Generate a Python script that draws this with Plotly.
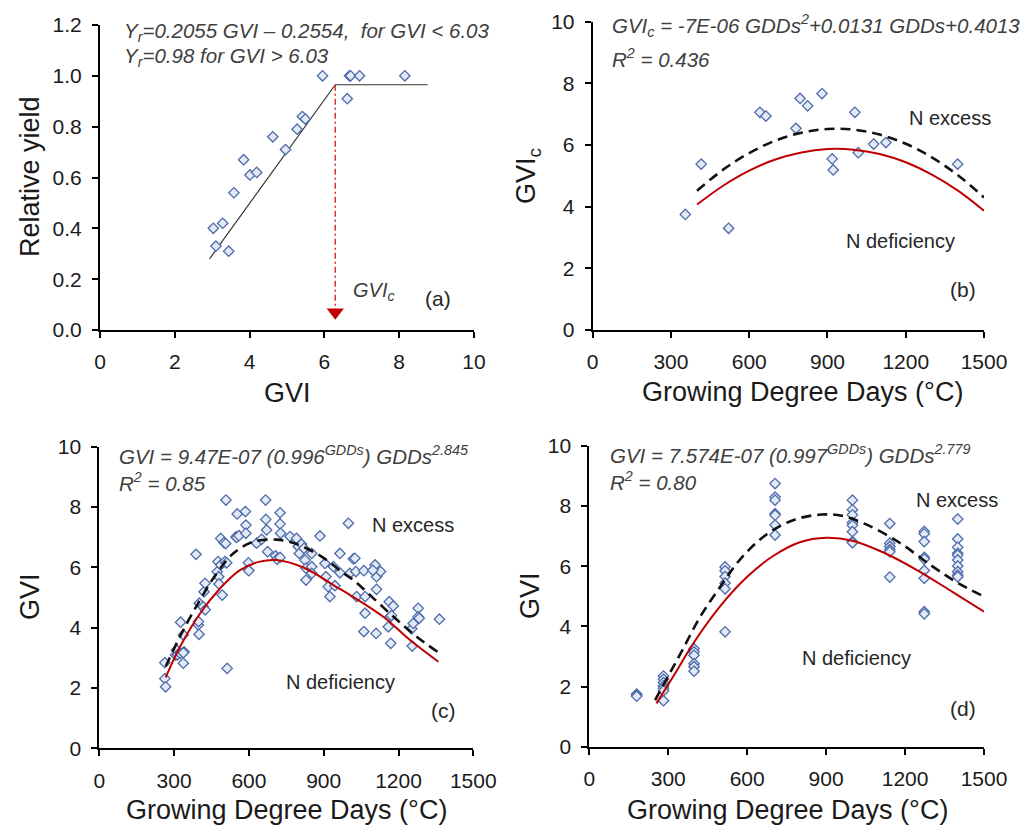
import plotly.graph_objects as go

# ---------------- Panel (a) ----------------
a_gvi = [3.03, 3.10, 3.28, 3.44, 3.58, 3.84, 4.01, 4.19, 4.62, 4.96, 5.27, 5.41, 5.49,
         5.95, 6.61, 6.67, 6.70, 6.94, 8.15]
a_ry = [0.40, 0.33, 0.42, 0.31, 0.54, 0.67, 0.61, 0.62, 0.76, 0.71, 0.79, 0.84, 0.83,
        1.00, 0.91, 1.00, 1.00, 1.00, 1.00]
a_fit_x = [2.93, 6.29, 8.76]
a_fit_y = [0.28, 0.965, 0.965]
a_crit_x = [6.29, 6.29]
a_crit_y = [0.965, 0.07]

# ---------------- Panel (b) ----------------
b_gdd = [355, 416, 521, 641, 664, 779, 795, 824, 879, 918, 922, 1005, 1018, 1077, 1124, 1399]
b_gvic = [3.75, 5.38, 3.30, 7.06, 6.94, 6.54, 7.51, 7.27, 7.67, 5.55, 5.19, 7.06, 5.75, 6.03, 6.08, 5.38]
b_curve_x = [400, 500, 600, 700, 800, 900, 1000, 1100, 1200, 1300, 1400, 1500]
b_dash_y = [4.52, 5.20, 5.74, 6.14, 6.40, 6.52, 6.50, 6.34, 6.04, 5.60, 5.02, 4.30]
b_red_y = [4.07, 4.68, 5.17, 5.53, 5.76, 5.87, 5.85, 5.71, 5.44, 5.04, 4.52, 3.87]

# ---------------- Panel (c) ----------------
c_gdd = [263, 263, 266, 306, 310, 314, 324, 326, 337, 337, 340, 337, 388, 397, 398, 400, 401,
         417, 420, 424, 425, 473, 476, 479, 480, 487, 487, 493, 500, 504, 507, 508, 511, 513,
         548, 551, 553, 560, 586, 588, 588, 598, 598, 600, 631, 651, 667, 668, 671, 675, 707,
         713, 725, 725, 727, 725, 765, 791, 798, 802, 811, 821, 825, 829, 829, 852, 852, 852,
         885, 905, 909, 918, 925, 939, 945, 965, 965, 999, 1005, 1019, 1025, 1029, 1032, 1061,
         1066, 1066, 1061, 1106, 1112, 1112, 1110, 1128, 1097, 1163, 1166, 1159, 1169, 1179,
         1172, 1253, 1255, 1259, 1279, 1279, 1283, 1364]
c_gvi = [2.84, 2.31, 2.04, 3.09, 3.26, 3.10, 3.15, 4.18, 3.76, 2.82, 3.20, 3.17, 6.43, 4.09, 4.20,
         3.78, 4.81, 4.69, 5.19, 5.47, 4.59, 5.85, 6.19, 5.69, 5.45, 6.08, 6.96, 5.08, 6.82, 6.19,
         6.79, 8.23, 6.15, 2.65, 7.01, 6.99, 7.77, 7.05, 7.85, 7.40, 7.13, 6.15, 5.91, 5.89, 6.80,
         6.93, 8.23, 7.59, 7.24, 6.52, 6.38, 6.27, 7.81, 7.44, 7.13, 6.33, 7.02, 6.96, 6.69, 6.46,
         6.77, 6.63, 6.24, 5.97, 5.58, 6.46, 6.02, 5.80, 7.04, 6.13, 5.69, 5.36, 5.03, 6.02, 5.39,
         6.46, 5.82, 7.46, 5.80, 6.28, 6.30, 5.86, 5.03, 5.89, 5.03, 4.48, 3.87, 6.08, 5.69, 5.27,
         3.81, 5.86, 5.90, 4.86, 4.36, 4.03, 3.48, 4.72, 4.40, 3.96, 3.39, 4.14, 4.64, 4.36, 4.31,
         4.28]
c_dash_x = [266, 330, 404, 471, 537, 618, 712, 785, 850, 912, 972, 1019, 1086, 1180, 1273, 1360]
c_dash_y = [2.71, 3.81, 4.92, 5.80, 6.46, 6.85, 6.92, 6.79, 6.55, 6.24, 5.85, 5.58, 5.08, 4.36, 3.70, 3.18]
c_red_x = [266, 324, 404, 484, 564, 644, 711, 825, 945, 1006, 1139, 1246, 1360]
c_red_y = [2.35, 3.37, 4.47, 5.30, 5.91, 6.19, 6.24, 5.97, 5.38, 5.08, 4.36, 3.59, 2.87]

# ---------------- Panel (d) ----------------
d_gdd = [180, 180, 180,
         282, 282, 282, 282, 282, 282, 282,
         398, 398, 398, 398, 398, 398,
         516, 516, 516, 516, 516, 516,
         706, 706, 706, 706, 706, 706, 706,
         1000, 1000, 1000, 1000, 1000, 1000, 1000, 1000,
         1142, 1142, 1142, 1142, 1142, 1142,
         1273, 1273, 1273, 1273, 1273, 1273, 1273, 1273, 1273,
         1400, 1400, 1400, 1400, 1400, 1400, 1400, 1400, 1400, 1400]
d_gvi = [1.75, 1.72, 1.68,
         2.35, 2.24, 2.13, 2.02, 1.94, 1.86, 1.53,
         3.26, 3.15, 3.04, 2.76, 2.66, 2.51,
         5.98, 5.85, 5.66, 5.44, 5.25, 3.82,
         8.75, 8.30, 8.20, 7.75, 7.70, 7.37, 7.04,
         8.20, 7.88, 7.71, 7.45, 7.36, 7.15, 6.82, 6.78,
         7.42, 6.77, 6.66, 6.55, 6.48, 5.64,
         7.16, 7.08, 6.82, 6.30, 6.24, 5.86, 5.60, 4.49, 4.42,
         7.57, 6.91, 6.63, 6.43, 6.37, 6.21, 6.01, 5.82, 5.71, 5.65]
d_dash_x = [250, 300, 350, 420, 500, 580, 680, 780, 880, 960, 1050, 1180, 1300, 1400, 1500]
d_dash_y = [1.55, 2.35, 3.15, 4.30, 5.35, 6.30, 7.10, 7.55, 7.72, 7.68, 7.40, 6.78, 6.02, 5.45, 4.99]
d_red_x = [255, 320, 400, 500, 600, 700, 800, 900, 1000, 1120, 1250, 1380, 1500]
d_red_y = [1.44, 2.35, 3.50, 4.70, 5.65, 6.35, 6.80, 6.95, 6.85, 6.45, 5.85, 5.15, 4.49]

# page body has an 8px margin: the figure starts at (8, 8) of the window
OFF = 8
W, H = 1029 - OFF, 827 - OFF
FONT = "Liberation Sans, Arial, sans-serif"
TXT = "#404040"
MARK = dict(symbol="diamond", size=8, color="#e3e9f5", line=dict(color="#4d6cab", width=1.3))
RED = "#c00000"
DASH = dict(color="#111111", width=2.6, dash="10px,6px")

fig = go.Figure()


def scatter(x, y, ax):
    fig.add_trace(go.Scatter(x=x, y=y, mode="markers", marker=MARK, xaxis="x" + ax, yaxis="y" + ax,
                             showlegend=False, hoverinfo="skip"))


def line(x, y, ax, style, shape="spline"):
    fig.add_trace(go.Scatter(x=x, y=y, mode="lines", line=dict(shape=shape, **style),
                             xaxis="x" + ax, yaxis="y" + ax, showlegend=False, hoverinfo="skip"))


# (a)
line(a_fit_x, a_fit_y, "", dict(color="#333333", width=1.2), shape="linear")
line(a_crit_x, a_crit_y, "", dict(color="#e03030", width=1.5, dash="6px,3px,2px,3px"), shape="linear")
fig.add_trace(go.Scatter(x=[a_crit_x[1]], y=[a_crit_y[1]], mode="markers",
                         marker=dict(symbol="triangle-down", size=15, color=RED),
                         xaxis="x", yaxis="y", showlegend=False, hoverinfo="skip"))
scatter(a_gvi, a_ry, "")
# (b)
scatter(b_gdd, b_gvic, "2")
line(b_curve_x, b_dash_y, "2", DASH)
line(b_curve_x, b_red_y, "2", dict(color=RED, width=2))
# (c)
scatter(c_gdd, c_gvi, "3")
line(c_dash_x, c_dash_y, "3", DASH)
line(c_red_x, c_red_y, "3", dict(color=RED, width=2))
# (d)
scatter(d_gdd, d_gvi, "4")
line(d_dash_x, d_dash_y, "4", DASH)
line(d_red_x, d_red_y, "4", dict(color=RED, width=2))


def px_dom_x(l, r):
    return [(l - OFF) / W, (r - OFF) / W]


def px_dom_y(top, bottom):
    return [1 - (bottom - OFF) / H, 1 - (top - OFF) / H]


def pap_x(px):
    return (px - OFF) / W


def pap_y(py):
    return 1 - (py - OFF) / H


AX = dict(showline=True, linewidth=2, linecolor="black", ticks="outside", ticklen=6, tickwidth=2,
          tickcolor="black", showgrid=False, zeroline=False, mirror=False, automargin=False,
          tickfont=dict(family=FONT, size=21, color="#1a1a1a"), ticklabelstandoff=6)

fig.update_layout(
    width=W, height=H, margin=dict(l=0, r=0, t=0, b=0, pad=0), autosize=False,
    paper_bgcolor="white", plot_bgcolor="white",
    xaxis=dict(AX, domain=px_dom_x(100, 474), anchor="y", range=[0, 10], dtick=2),
    yaxis=dict(AX, domain=px_dom_y(25, 330), anchor="x", range=[0, 1.2], dtick=0.2, tickformat=".1f"),
    xaxis2=dict(AX, domain=px_dom_x(592.7, 984), anchor="y2", range=[0, 1500], dtick=300),
    yaxis2=dict(AX, domain=px_dom_y(21.7, 330), anchor="x2", range=[0, 10], dtick=2),
    xaxis3=dict(AX, domain=px_dom_x(99.3, 473.3), anchor="y3", range=[0, 1500], dtick=300),
    yaxis3=dict(AX, domain=px_dom_y(446.7, 748.3), anchor="x3", range=[0, 10], dtick=2),
    xaxis4=dict(AX, domain=px_dom_x(589.3, 984), anchor="y4", range=[0, 1500], dtick=300),
    yaxis4=dict(AX, domain=px_dom_y(446, 746.7), anchor="x4", range=[0, 10], dtick=2),
)

# axis titles placed in window pixels
TITLE = dict(family=FONT, size=27, color="#1a1a1a")
GDD_T = "Growing Degree Days (°C)"
x_titles = [("GVI", 287, 393), (GDD_T, 802, 392), (GDD_T, 286, 810), (GDD_T, 787, 810)]
y_titles = [("Relative yield", 30, 177), ("GVI<sub>c</sub>", 528, 176), ("GVI", 30, 597), ("GVI", 530, 596)]
for t, xp, yp in x_titles:
    fig.add_annotation(xref="paper", yref="paper", x=pap_x(xp), y=pap_y(yp), text=t, showarrow=False,
                       xanchor="center", yanchor="middle", font=TITLE)
for t, xp, yp in y_titles:
    fig.add_annotation(xref="paper", yref="paper", x=pap_x(xp), y=pap_y(yp), text=t, showarrow=False,
                       xanchor="center", yanchor="middle", textangle=-90, font=TITLE)


def note(ax, x, y, text, size=20, anchor="center", italic=False, color="#262626"):
    fig.add_annotation(xref="x" + ax, yref="y" + ax, x=x, y=y, text=text, showarrow=False,
                       xanchor=anchor, yanchor="middle",
                       font=dict(family=FONT, size=size, color=color,
                                 style="italic" if italic else "normal"))


EQ = 20.5
# (a)
note("", 0.58, 1.172, "Y<sub>r</sub>=0.2055 GVI – 0.2554,  for GVI &lt; 6.03", EQ, "left", True, TXT)
note("", 0.58, 1.074, "Y<sub>r</sub>=0.98 for GVI &gt; 6.03", EQ, "left", True, TXT)
note("", 6.7, 0.15, "GVI<sub>c</sub>", 20, "left", True, TXT)
note("", 9.05, 0.125, "(a)", 21)
# (b)
note("2", 65, 9.89, "GVI<sub>c</sub> = -7E-06 GDDs<sup>2</sup>+0.0131 GDDs+0.4013", EQ, "left", True, TXT)
note("2", 65, 8.81, "R<sup>2</sup> = 0.436", EQ, "left", True, TXT)
note("2", 1370, 6.87, "N excess", 20)
note("2", 1178, 2.9, "N deficiency", 20)
note("2", 1420, 1.30, "(b)", 21)
# (c)
note("3", 70, 9.72, "GVI = 9.47E-07 (0.996<sup>GDDs</sup>) GDDs<sup>2.845</sup>", EQ, "left", True, TXT)
note("3", 70, 8.84, "R<sup>2</sup> = 0.85", EQ, "left", True, TXT)
note("3", 1260, 7.40, "N excess", 20)
note("3", 966, 2.21, "N deficiency", 20)
note("3", 1380, 1.27, "(c)", 21)
# (d)
note("4", 70, 9.72, "GVI = 7.574E-07 (0.997<sup>GDDs</sup>) GDDs<sup>2.779</sup>", EQ, "left", True, TXT)
note("4", 70, 8.84, "R<sup>2</sup> = 0.80", EQ, "left", True, TXT)
note("4", 1396, 8.2, "N excess", 20)
note("4", 1016, 2.94, "N deficiency", 20)
note("4", 1421, 1.28, "(d)", 21)

fig.write_html("out.html")
